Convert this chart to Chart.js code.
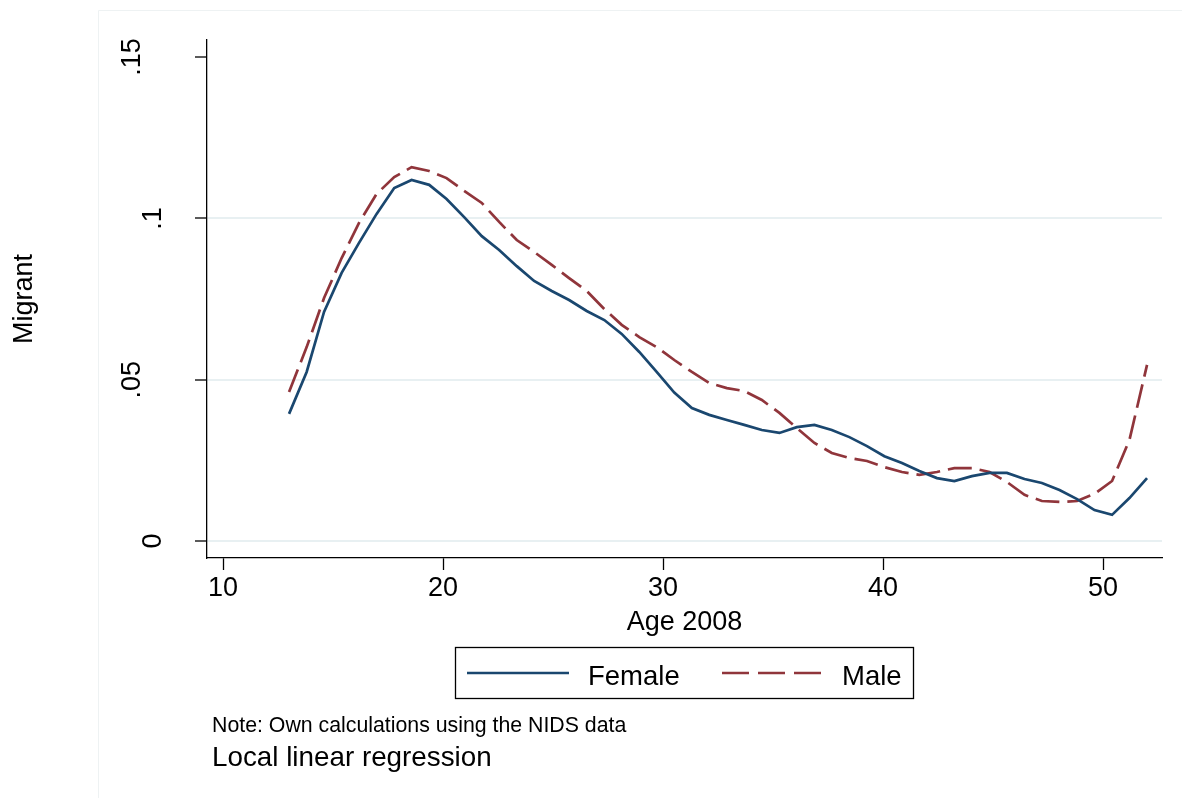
<!DOCTYPE html>
<html>
<head>
<meta charset="utf-8">
<script src="https://cdn.jsdelivr.net/npm/chart.js@4.4.1/dist/chart.umd.min.js"></script>
<style>
  html, body { margin: 0; padding: 0; background: #ffffff; }
  #wrap { width: 1182px; height: 798px; }
</style>
</head>
<body>
<div id="wrap"><canvas id="c" width="1182" height="798"></canvas></div>
<script>
// ---- data (lpoly grid, 50 points) ----
const ages = [13.00, 13.80, 14.59, 15.39, 16.18, 16.98, 17.78, 18.57, 19.37, 20.16,
              20.96, 21.76, 22.55, 23.35, 24.14, 24.94, 25.73, 26.53, 27.33, 28.12,
              28.92, 29.71, 30.51, 31.31, 32.10, 32.90, 33.69, 34.49, 35.29, 36.08,
              36.88, 37.67, 38.47, 39.27, 40.06, 40.86, 41.65, 42.45, 43.24, 44.04,
              44.84, 45.63, 46.43, 47.22, 48.02, 48.82, 49.61, 50.41, 51.20, 52.00];
const female = [0.0394, 0.0524, 0.0710, 0.0831, 0.0924, 0.1014, 0.1094, 0.1119, 0.1104, 0.1060,
                0.1004, 0.0945, 0.0902, 0.0852, 0.0806, 0.0775, 0.0747, 0.0713, 0.0685, 0.0642,
                0.0586, 0.0524, 0.0460, 0.0412, 0.0391, 0.0375, 0.0360, 0.0344, 0.0335, 0.0353,
                0.0360, 0.0344, 0.0322, 0.0294, 0.0263, 0.0242, 0.0217, 0.0195, 0.0186, 0.0201,
                0.0211, 0.0211, 0.0192, 0.0180, 0.0158, 0.0130, 0.0096, 0.0081, 0.0133, 0.0195];
const male = [0.0462, 0.0601, 0.0753, 0.0877, 0.0986, 0.1076, 0.1128, 0.1159, 0.1147, 0.1125,
              0.1085, 0.1048, 0.0989, 0.0933, 0.0896, 0.0856, 0.0815, 0.0775, 0.0719, 0.0670,
              0.0632, 0.0601, 0.0561, 0.0524, 0.0490, 0.0474, 0.0465, 0.0437, 0.0397, 0.0350,
              0.0304, 0.0273, 0.0257, 0.0248, 0.0229, 0.0214, 0.0205, 0.0214, 0.0226, 0.0226,
              0.0214, 0.0183, 0.0143, 0.0124, 0.0121, 0.0124, 0.0146, 0.0186, 0.0313, 0.0546];
const seriesNames = ['Female', 'Male'];
const xTicks = [10, 20, 30, 40, 50];
const yTicks = [0, 0.05, 0.1, 0.15];
const yTickLabels = ['0', '.05', '.1', '.15'];
const xTitle = 'Age 2008';
const yTitle = 'Migrant';
const noteText = 'Note: Own calculations using the NIDS data';
const captionText = 'Local linear regression';

// ---- styles ----
const FONT = '"Liberation Sans", Arial, Helvetica, sans-serif';
const NAVY = '#1a476f';
const MAROON = '#90353b';
const GRID = '#e8f0f2';
const DASH = [24, 8];

const overlay = {
  id: 'overlay',
  beforeDraw(chart) {
    const ctx = chart.ctx;
    ctx.save();
    ctx.fillStyle = '#ffffff';
    ctx.fillRect(0, 0, chart.width, chart.height);
    ctx.strokeStyle = '#eef2f3';
    ctx.lineWidth = 1;
    ctx.beginPath();
    ctx.moveTo(98.5, chart.height);
    ctx.lineTo(98.5, 10.5);
    ctx.lineTo(chart.width, 10.5);
    ctx.stroke();
    ctx.restore();
  },
  afterDraw(chart) {
    const ctx = chart.ctx;
    const ys = chart.scales.y;
    const area = chart.chartArea;
    ctx.save();
    ctx.fillStyle = '#000';
    // y tick labels (vertical)
    ctx.font = '27px ' + FONT;
    ctx.textAlign = 'center';
    ctx.textBaseline = 'alphabetic';
    yTicks.forEach((v, i) => {
      const lab = yTickLabels[i];
      const py = ys.getPixelForValue(v);
      const bx = lab.length > 2 ? 140 : 161;
      ctx.save();
      ctx.translate(bx, py);
      ctx.rotate(-Math.PI / 2);
      ctx.fillText(lab, 0, 0);
      ctx.restore();
    });
    // y title
    ctx.save();
    ctx.translate(32, (area.top + area.bottom) / 2);
    ctx.rotate(-Math.PI / 2);
    ctx.fillText(yTitle, 0, 0);
    ctx.restore();
    // x title
    ctx.fillText(xTitle, (area.left + area.right) / 2, 630);

    // legend
    const lx = 455.5, ly = 647.5, lw = 458, lh = 51;
    ctx.strokeStyle = '#000';
    ctx.lineWidth = 1.3;
    ctx.strokeRect(lx, ly, lw, lh);
    const sy = 673;
    ctx.lineWidth = 2.6;
    ctx.strokeStyle = NAVY;
    ctx.beginPath(); ctx.moveTo(467, sy); ctx.lineTo(569, sy); ctx.stroke();
    ctx.strokeStyle = MAROON;
    ctx.setLineDash([27, 9]);
    ctx.beginPath(); ctx.moveTo(722, sy); ctx.lineTo(823, sy); ctx.stroke();
    ctx.setLineDash([]);
    ctx.textAlign = 'left';
    ctx.font = '27.5px ' + FONT;
    ctx.fillText(seriesNames[0], 588, 685);
    ctx.fillText(seriesNames[1], 842, 685);

    // note and caption
    ctx.font = '21.3px ' + FONT;
    ctx.fillText(noteText, 212, 732);
    ctx.font = '27.8px ' + FONT;
    ctx.fillText(captionText, 212, 766);
    ctx.restore();
  }
};

const toPts = arr => ages.map((a, i) => ({ x: a, y: arr[i] }));

new Chart(document.getElementById('c'), {
  type: 'line',
  data: {
    datasets: [
      { label: seriesNames[0], data: toPts(female), borderColor: NAVY, borderWidth: 2.7,
        pointRadius: 0, tension: 0, fill: false },
      { label: seriesNames[1], data: toPts(male), borderColor: MAROON, borderWidth: 2.7,
        borderDash: DASH, pointRadius: 0, tension: 0, fill: false }
    ]
  },
  options: {
    responsive: false,
    animation: false,
    devicePixelRatio: 1,
    layout: { padding: { top: 40, right: 20, left: 0, bottom: 0 } },
    plugins: { legend: { display: false }, tooltip: { enabled: false } },
    scales: {
      x: {
        type: 'linear',
        min: 9.27,
        max: 52.68,
        afterBuildTicks: s => { s.ticks = xTicks.map(v => ({ value: v })); },
        afterFit: s => { s.height = 240; },
        grid: { drawOnChartArea: false, drawTicks: true, tickLength: 12, tickColor: '#000', tickWidth: 1.3 },
        border: { display: true, color: '#000', width: 1.3 },
        ticks: { color: '#000', font: { family: FONT, size: 27 }, padding: 2, maxRotation: 0, minRotation: 0, autoSkip: false }
      },
      y: {
        type: 'linear',
        min: -0.00527,
        max: 0.1553,
        afterBuildTicks: s => { s.ticks = yTicks.map(v => ({ value: v })); },
        afterFit: s => { s.width = 207; },
        grid: {
          drawOnChartArea: true, drawTicks: true, tickLength: 12, tickColor: '#000', tickWidth: 1.3,
          lineWidth: 2,
          color: c => (c.tick && c.tick.value >= 0.15) ? 'rgba(0,0,0,0)' : GRID
        },
        border: { display: true, color: '#000', width: 1.3 },
        ticks: { display: false }
      }
    }
  },
  plugins: [overlay]
});
</script>
</body>
</html>
